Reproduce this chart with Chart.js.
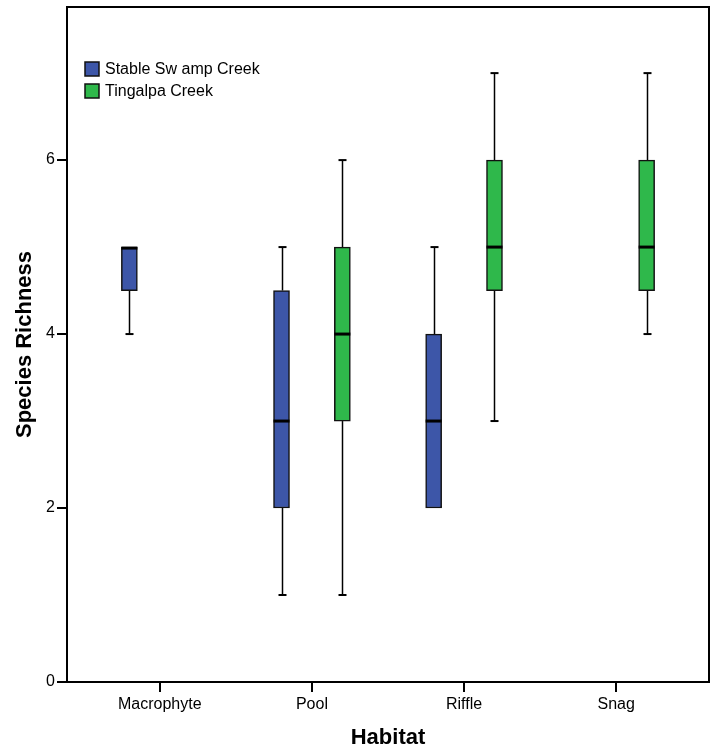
<!DOCTYPE html>
<html lang="en">
<head>
    <meta charset="UTF-8">
    <title>Species Richness by Habitat</title>
    <script src="https://cdn.jsdelivr.net/npm/chart.js@4.4.0/dist/chart.umd.min.js"></script>
    <style>
        body { margin: 0; background: #ffffff; }
        .chart-container { width: 713px; height: 753px; }
    </style>
</head>
<body>
    <div class="chart-container">
        <canvas id="boxChart" width="713" height="753"></canvas>
    </div>

    <script>
        // categories and tick labels
        const habitats = ['Macrophyte', 'Pool', 'Riffle', 'Snag'];
        const yTicks = [0, 2, 4, 6];
        const seriesNames = ['Stable Sw amp Creek', 'Tingalpa Creek'];

        // Stable Swamp Creek five-number summaries (null = no data)
        const stableMin    = [4,   1,   2,   null];
        const stableQ1     = [4.5, 2,   2,   null];
        const stableMedian = [5,   3,   3,   null];
        const stableQ3     = [5,   4.5, 4,   null];
        const stableMax    = [5,   5,   5,   null];

        // Tingalpa Creek
        const tingMin    = [null, 1, 3,   4];
        const tingQ1     = [null, 3, 4.5, 4.5];
        const tingMedian = [null, 4, 5,   5];
        const tingQ3     = [null, 5, 6,   6];
        const tingMax    = [null, 6, 7,   7];

        const series = [
            { min: stableMin, q1: stableQ1, med: stableMedian, q3: stableQ3, max: stableMax, color: '#3d56a8', shift: -0.2 },
            { min: tingMin, q1: tingQ1, med: tingMedian, q3: tingQ3, max: tingMax, color: '#2fb84b', shift: 0.2 }
        ];

        const BOX_W = 16;
        const CAP_W = 8;
        const FONT = "'Liberation Sans', Arial, sans-serif";

        Chart.defaults.font.family = FONT;
        Chart.defaults.color = '#000000';

        function boxData(s) {
            const out = [];
            habitats.forEach((h, i) => {
                if (s.q1[i] !== null) out.push({ x: i + s.shift, y: [s.q1[i], s.q3[i]] });
            });
            return out;
        }

        // whiskers, medians, frame and legend
        const boxParts = {
            id: 'boxParts',
            beforeDatasetsDraw(chart) {
                const ctx = chart.ctx, xs = chart.scales.x, ys = chart.scales.y;
                ctx.save();
                ctx.strokeStyle = '#000000';
                series.forEach(s => {
                    habitats.forEach((h, i) => {
                        if (s.q1[i] === null) return;
                        const px = Math.round(xs.getPixelForValue(i + s.shift)) + 0.5;
                        const parts = [[s.q3[i], s.max[i]], [s.q1[i], s.min[i]]];
                        parts.forEach(([from, to]) => {
                            if (from === to) return;
                            ctx.lineWidth = 1.5;
                            ctx.beginPath();
                            ctx.moveTo(px, ys.getPixelForValue(from));
                            ctx.lineTo(px, ys.getPixelForValue(to));
                            ctx.stroke();
                            ctx.lineWidth = 2;
                            ctx.beginPath();
                            ctx.moveTo(px - CAP_W / 2, ys.getPixelForValue(to));
                            ctx.lineTo(px + CAP_W / 2, ys.getPixelForValue(to));
                            ctx.stroke();
                        });
                    });
                });
                ctx.restore();
            },
            afterDatasetsDraw(chart) {
                const ctx = chart.ctx, xs = chart.scales.x, ys = chart.scales.y;
                ctx.save();
                ctx.strokeStyle = '#000000';
                ctx.lineWidth = 3;
                series.forEach(s => {
                    habitats.forEach((h, i) => {
                        if (s.med[i] === null) return;
                        const px = xs.getPixelForValue(i + s.shift);
                        let py = ys.getPixelForValue(s.med[i]);
                        if (s.med[i] === s.q3[i]) py += 1;
                        ctx.beginPath();
                        ctx.moveTo(px - BOX_W / 2, py);
                        ctx.lineTo(px + BOX_W / 2, py);
                        ctx.stroke();
                    });
                });
                ctx.restore();
            },
            afterDraw(chart) {
                const ctx = chart.ctx, a = chart.chartArea;
                ctx.save();
                ctx.strokeStyle = '#000000';
                ctx.lineWidth = 2;
                ctx.beginPath();
                ctx.moveTo(a.left, a.top);
                ctx.lineTo(a.right, a.top);
                ctx.lineTo(a.right, a.bottom);
                ctx.stroke();

                // legend
                ctx.font = '16px ' + FONT;
                ctx.textBaseline = 'middle';
                ctx.textAlign = 'left';
                series.forEach((s, k) => {
                    const top = 62 + k * 22;
                    ctx.fillStyle = s.color;
                    ctx.fillRect(85, top, 14, 14);
                    ctx.lineWidth = 1.5;
                    ctx.strokeStyle = '#111111';
                    ctx.strokeRect(85, top, 14, 14);
                    ctx.fillStyle = '#000000';
                    ctx.fillText(seriesNames[k], 105, top + 8);
                });
                ctx.restore();
            }
        };

        const chart = new Chart(document.getElementById('boxChart'), {
            type: 'bar',
            data: {
                datasets: series.map((s, k) => ({
                    label: seriesNames[k],
                    data: boxData(s),
                    backgroundColor: s.color,
                    borderColor: '#111111',
                    borderWidth: 1.5,
                    borderSkipped: false,
                    barThickness: BOX_W,
                    grouped: false
                }))
            },
            options: {
                responsive: false,
                animation: false,
                layout: { padding: { top: 7, right: 4, left: 0, bottom: 0 } },
                plugins: {
                    legend: { display: false },
                    tooltip: { enabled: false }
                },
                scales: {
                    x: {
                        type: 'linear',
                        min: -0.61,
                        max: 3.61,
                        offset: false,
                        afterBuildTicks: scale => { scale.ticks = habitats.map((h, i) => ({ value: i })); },
                        afterFit: scale => { scale.height = 71; },
                        ticks: {
                            callback: v => habitats[v],
                            font: { size: 16 },
                            padding: 3,
                            maxRotation: 0
                        },
                        grid: { offset: false, drawOnChartArea: false, drawTicks: true, tickLength: 10, color: '#000000', lineWidth: 2 },
                        border: { display: true, color: '#000000', width: 2 },
                        title: {
                            display: true,
                            text: 'Habitat',
                            font: { size: 22, weight: 'bold' },
                            padding: { top: 0, bottom: 2 }
                        }
                    },
                    y: {
                        min: 0,
                        max: 7.76,
                        afterBuildTicks: scale => { scale.ticks = yTicks.map(v => ({ value: v })); },
                        afterFit: scale => {
                            scale.width = 67;
                            scale.paddingTop = 0;
                            scale.paddingBottom = 0;
                        },
                        ticks: { font: { size: 16 }, padding: 2 },
                        grid: { drawOnChartArea: false, drawTicks: true, tickLength: 10, color: '#000000', lineWidth: 2 },
                        border: { display: true, color: '#000000', width: 2 },
                        title: {
                            display: true,
                            text: 'Species Richness',
                            font: { size: 22, weight: 'bold' },
                            padding: { top: 12, bottom: 0 }
                        }
                    }
                }
            },
            plugins: [boxParts]
        });
    </script>
</body>
</html>
